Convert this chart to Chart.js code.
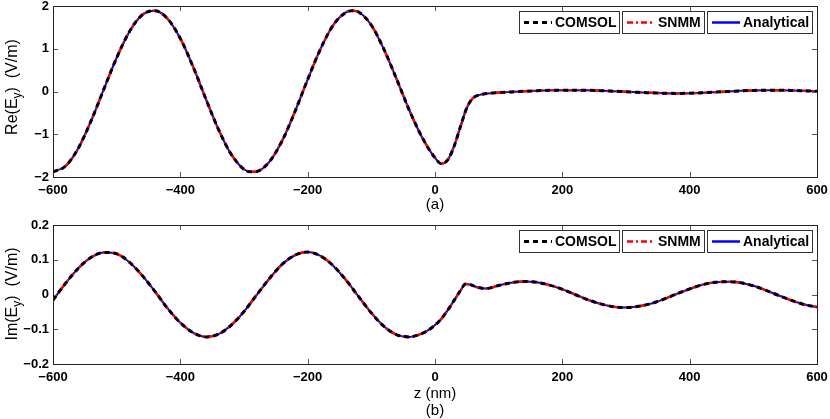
<!DOCTYPE html>
<html><head><meta charset="utf-8">
<script src="https://cdn.jsdelivr.net/npm/chart.js@4.4.0/dist/chart.umd.min.js"></script>
<style>
html,body{margin:0;padding:0;background:#fff;width:830px;height:419px;overflow:hidden;}
canvas{position:absolute;left:0;}
#c1{top:0;z-index:2}
#c2{top:210px;z-index:1}
</style></head><body>
<canvas id="c1" width="830" height="220"></canvas>
<canvas id="c2" width="830" height="209"></canvas>
<script>
// ---- data ----
const seriesNames = ['COMSOL', 'SNMM', 'Analytical'];
const xTicks = [-600, -400, -200, 0, 200, 400, 600];
const reTicks = [-2, -1, 0, 1, 2];
const imTicks = [-0.2, -0.1, 0, 0.1, 0.2];

const zRe = [-600,-580,-560,-540,-520,-500,-480,-460,-440,-420,-400,-380,-360,-340,-320,-300,-290,-280,-260,-240,-220,-200,-180,-160,-140,-130,-120,-100,-80,-60,-40,-20,0,10,20,30,40,50,60,70,80,100,120,140,160,180,200,220,240,260,280,300,320,340,360,380,400,420,440,460,480,500,520,540,560,580,600];
const reValues = [-1.88,-1.74,-1.32,-0.68,0.06,0.79,1.40,1.79,1.89,1.70,1.24,0.58,-0.17,-0.89,-1.47,-1.82,-1.88,-1.87,-1.64,-1.15,-0.47,0.28,0.99,1.55,1.85,1.89,1.86,1.55,0.98,0.28,-0.45,-1.08,-1.55,-1.69,-1.60,-1.28,-0.82,-0.38,-0.15,-0.08,-0.05,-0.025,-0.01,0.005,0.018,0.027,0.032,0.032,0.028,0.02,0.008,-0.005,-0.02,-0.03,-0.04,-0.045,-0.04,-0.03,-0.015,0.0,0.015,0.025,0.03,0.03,0.025,0.015,0.005];

const zIm = [-600,-580,-560,-540,-520,-500,-480,-460,-440,-420,-400,-380,-360,-340,-320,-300,-280,-260,-240,-220,-200,-180,-160,-140,-120,-100,-80,-60,-40,-20,-10,0,10,20,30,40,48,56,66,80,100,120,140,160,180,200,220,240,260,280,300,320,340,360,380,400,420,440,460,480,500,520,540,560,580,600];
const imValues = [-0.016,0.033,0.076,0.107,0.121,0.117,0.093,0.055,0.009,-0.040,-0.081,-0.110,-0.122,-0.114,-0.088,-0.049,-0.001,0.046,0.087,0.113,0.122,0.111,0.083,0.042,-0.006,-0.053,-0.092,-0.116,-0.122,-0.112,-0.102,-0.088,-0.070,-0.045,-0.017,0.011,0.030,0.028,0.021,0.017,0.026,0.034,0.0375,0.035,0.027,0.015,0.0,-0.015,-0.027,-0.035,-0.0375,-0.034,-0.026,-0.013,0.002,0.016,0.028,0.035,0.037,0.034,0.025,0.012,-0.003,-0.017,-0.029,-0.036];

// ---- helpers ----
const FONT = "'Liberation Sans', Arial, Helvetica, sans-serif";
const fmt = v => (v < 0 ? '\u2212' + String(Math.abs(v)) : String(v));
const toPoints = (xs, ys) => xs.map((x, i) => ({x: x, y: ys[i]}));

const styles = [
  {borderColor: '#000000', borderWidth: 3, borderDash: [5, 4], legendWidth: 3},
  {borderColor: '#ff0000', borderWidth: 2.5, borderDash: [6, 3, 2, 3], legendWidth: 2.5},
  {borderColor: '#0000ff', borderWidth: 2, borderDash: [], legendWidth: 2.5}
];

function makeDatasets(xs, ys) {
  return seriesNames.map((name, i) => Object.assign({
    label: name,
    data: toPoints(xs, ys),
    pointRadius: 0,
    fill: false,
    cubicInterpolationMode: 'monotone'
  }, styles[i]));
}

// frame + inward ticks (MATLAB style box)
const framePlugin = {
  id: 'frame',
  afterDatasetsDraw(chart, args, o) {
    const ctx = chart.ctx, ca = chart.chartArea;
    const xs = chart.scales.x, ys = chart.scales.y;
    ctx.save();
    ctx.setLineDash([]);
    ctx.lineWidth = 1;
    ctx.strokeStyle = '#555';
    const L = 5;
    ctx.beginPath();
    o.xTicks.forEach(v => {
      const p = Math.round(xs.getPixelForValue(v)) + 0.5;
      ctx.moveTo(p, ca.bottom); ctx.lineTo(p, ca.bottom - L);
      ctx.moveTo(p, ca.top); ctx.lineTo(p, ca.top + L);
    });
    o.yTicks.forEach(v => {
      const p = Math.round(ys.getPixelForValue(v)) + 0.5;
      ctx.moveTo(ca.left, p); ctx.lineTo(ca.left + L, p);
      ctx.moveTo(ca.right, p); ctx.lineTo(ca.right - L, p);
    });
    ctx.stroke();
    ctx.strokeStyle = '#222';
    ctx.strokeRect(Math.round(ca.left) + 0.5, Math.round(ca.top) + 0.5,
      Math.round(ca.right - ca.left), Math.round(ca.bottom - ca.top));
    ctx.restore();
  }
};

// boxed legend entries, laid out right to left
const boxLegendPlugin = {
  id: 'boxLegend',
  afterDraw(chart, args, o) {
    const ctx = chart.ctx, ca = chart.chartArea;
    ctx.save();
    ctx.font = o.font;
    const items = chart.data.datasets;
    let right = ca.right - o.marginRight;
    const top = ca.top + o.marginTop;
    for (let i = items.length - 1; i >= 0; i--) {
      const ds = items[i];
      const tw = ctx.measureText(ds.label).width;
      const w = Math.round(o.padL + o.sample + o.gap + tw + o.padR);
      const left = right - w;
      ctx.fillStyle = '#fff';
      ctx.fillRect(left, top, w, o.height);
      ctx.setLineDash([]);
      ctx.lineWidth = 1;
      ctx.strokeStyle = '#333';
      ctx.strokeRect(left + 0.5, top + 0.5, w - 1, o.height - 1);
      const cy = top + o.height / 2;
      ctx.beginPath();
      ctx.setLineDash(ds.borderDash || []);
      ctx.lineWidth = ds.legendWidth || ds.borderWidth;
      ctx.strokeStyle = ds.borderColor;
      ctx.moveTo(left + o.padL, cy);
      ctx.lineTo(left + o.padL + o.sample, cy);
      ctx.stroke();
      ctx.setLineDash([]);
      ctx.fillStyle = '#000';
      ctx.textBaseline = 'middle';
      ctx.textAlign = 'left';
      ctx.fillText(ds.label, left + o.padL + o.sample + o.gap, cy + 1);
      right = left - o.spacing;
    }
    ctx.restore();
  }
};

// rotated y title with subscript
const yTitlePlugin = {
  id: 'yTitle',
  afterDraw(chart, args, o) {
    const ctx = chart.ctx;
    ctx.save();
    const big = o.size + 'px ' + FONT, small = Math.round(o.size * 0.72) + 'px ' + FONT;
    ctx.font = big; const w1 = ctx.measureText(o.pre).width;
    ctx.font = small; const w2 = ctx.measureText(o.sub).width;
    ctx.font = big; const w3 = ctx.measureText(o.post).width;
    const total = w1 + w2 + w3;
    ctx.translate(o.x, o.yCenter);
    ctx.rotate(-Math.PI / 2);
    ctx.fillStyle = '#000';
    ctx.textBaseline = 'alphabetic';
    ctx.textAlign = 'left';
    let x = -total / 2;
    ctx.font = big; ctx.fillText(o.pre, x, 0); x += w1;
    ctx.font = small; ctx.fillText(o.sub, x, o.size * 0.28); x += w2;
    ctx.font = big; ctx.fillText(o.post, x, 0);
    ctx.restore();
  }
};

function makeChart(canvasId, xs, ys, yTicks, yMin, yMax, xTitle, cfg) {
  return new Chart(document.getElementById(canvasId), {
    type: 'line',
    data: {datasets: makeDatasets(xs, ys)},
    plugins: [framePlugin, boxLegendPlugin, yTitlePlugin],
    options: {
      responsive: false,
      animation: false,
      devicePixelRatio: 1,
      layout: {padding: {top: cfg.padTop, right: 13, left: 0, bottom: 0}},
      plugins: {
        legend: {display: false},
        tooltip: {enabled: false},
        frame: {xTicks: xTicks, yTicks: yTicks},
        boxLegend: {font: 'bold 14px ' + FONT, marginRight: 4, marginTop: 5, height: 23,
          padL: 5, sample: 28, gap: 3, padR: 4, spacing: 2},
        yTitle: Object.assign({size: 16, x: 17}, cfg.yTitle)
      },
      scales: {
        x: {
          type: 'linear', min: -600, max: 600,
          grid: {display: false, drawTicks: false},
          border: {display: false},
          afterBuildTicks: s => { s.ticks = xTicks.map(v => ({value: v})); },
          afterFit: s => { s.height = cfg.xAxisHeight; s.paddingLeft = 0; s.paddingRight = 0; },
          ticks: {color: '#000', font: {family: FONT, size: 13, weight: 'bold'},
            padding: cfg.xTickPad, maxRotation: 0, autoSkip: false, callback: v => fmt(v)},
          title: {display: true, text: xTitle, color: '#000',
            font: {family: FONT, size: 15, lineHeight: cfg.titleLH}, padding: {top: 0, bottom: cfg.titlePadB}}
        },
        y: {
          min: yMin, max: yMax,
          grid: {display: false, drawTicks: false},
          border: {display: false},
          afterBuildTicks: s => { s.ticks = yTicks.map(v => ({value: v})); },
          afterFit: s => { s.width = 53; s.paddingTop = 0; s.paddingBottom = 0; },
          ticks: {color: '#000', font: {family: FONT, size: 13, weight: 'bold'},
            padding: 4, autoSkip: false, callback: v => fmt(v)}
        }
      }
    }
  });
}

makeChart('c1', zRe, reValues, reTicks, -2, 2, '(a)', {
  padTop: 6, xAxisHeight: 43, xTickPad: 6, titleLH: 1.2, titlePadB: 6,
  yTitle: {pre: 'Re(E', sub: 'y', post: ')  (V/m)', yCenter: 87}
});
makeChart('c2', zIm, imValues, imTicks, -0.2, 0.2, ['z (nm)', '(b)'], {
  padTop: 15, xAxisHeight: 55, xTickPad: 6, titleLH: 1.13, titlePadB: 0,
  yTitle: {pre: 'Im(E', sub: 'y', post: ')  (V/m)', yCenter: 84}
});
</script>
</body></html>
